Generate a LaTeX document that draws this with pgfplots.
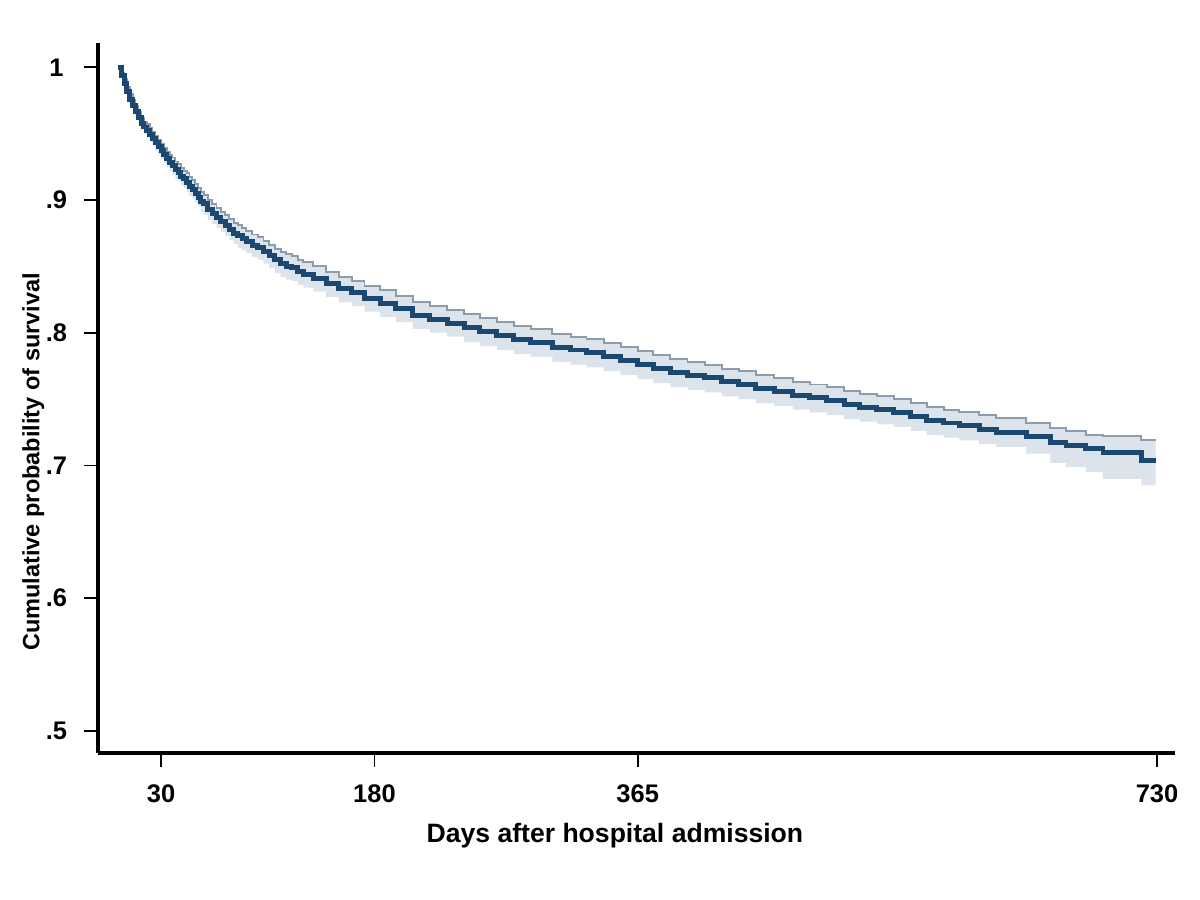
\documentclass[border=0pt]{standalone}
\usepackage{fontspec}
\setmainfont{Liberation Sans}
\usepackage{pgfplots}
\usepackage{pgfplotstable}
\pgfplotsset{compat=1.18}
\usepgfplotslibrary{fillbetween}

\definecolor{mainc}{RGB}{26,72,112}
\definecolor{upc}{RGB}{140,156,171}
\definecolor{bandc}{RGB}{221,227,234}

% Kaplan-Meier estimate with confidence band
\pgfplotstableread{
t   s     lo    hi
0   1.000 1.000 1.000
2   0.994 0.992 0.996
4   0.988 0.985 0.991
6   0.982 0.979 0.985
8   0.976 0.972 0.980
10  0.971 0.967 0.975
12  0.967 0.963 0.971
14  0.962 0.958 0.966
16  0.958 0.953 0.962
18  0.955 0.950 0.959
20  0.952 0.947 0.957
22  0.949 0.944 0.954
24  0.946 0.941 0.951
26  0.943 0.937 0.948
28  0.940 0.934 0.945
30  0.937 0.931 0.942
32  0.934 0.928 0.939
34  0.931 0.925 0.936
36  0.928 0.922 0.934
38  0.926 0.919 0.932
40  0.923 0.916 0.929
42  0.921 0.914 0.927
44  0.918 0.911 0.924
46  0.916 0.909 0.922
48  0.913 0.906 0.920
50  0.910 0.903 0.917
52  0.908 0.901 0.915
54  0.905 0.898 0.912
56  0.902 0.895 0.909
58  0.899 0.891 0.906
60  0.897 0.889 0.904
63  0.893 0.885 0.900
66  0.890 0.882 0.897
69  0.887 0.879 0.894
72  0.884 0.876 0.891
75  0.881 0.873 0.889
78  0.878 0.870 0.886
81  0.875 0.867 0.883
84  0.873 0.864 0.881
87  0.871 0.862 0.879
90  0.869 0.860 0.877
94  0.866 0.857 0.874
98  0.864 0.855 0.872
102 0.861 0.852 0.869
106 0.858 0.849 0.866
110 0.855 0.845 0.863
114 0.852 0.842 0.861
118 0.850 0.840 0.859
122 0.849 0.839 0.858
126 0.846 0.836 0.855
130 0.844 0.834 0.853
137 0.841 0.831 0.850
146 0.837 0.827 0.846
155 0.833 0.823 0.842
164 0.830 0.820 0.839
173 0.826 0.816 0.835
184 0.822 0.812 0.832
195 0.818 0.808 0.828
207 0.813 0.803 0.823
219 0.810 0.800 0.820
231 0.807 0.797 0.817
243 0.804 0.793 0.814
254 0.801 0.790 0.811
266 0.798 0.787 0.808
278 0.795 0.784 0.805
290 0.793 0.782 0.803
305 0.789 0.778 0.799
318 0.787 0.776 0.797
329 0.785 0.774 0.795
341 0.782 0.771 0.792
353 0.779 0.768 0.789
365 0.776 0.765 0.786
376 0.773 0.762 0.783
388 0.770 0.759 0.780
400 0.768 0.757 0.778
412 0.766 0.755 0.776
424 0.763 0.752 0.773
436 0.761 0.750 0.771
448 0.758 0.747 0.768
461 0.756 0.745 0.766
474 0.753 0.742 0.763
486 0.751 0.740 0.761
498 0.749 0.738 0.759
510 0.746 0.735 0.756
521 0.744 0.733 0.754
533 0.742 0.731 0.752
545 0.740 0.729 0.750
557 0.737 0.726 0.747
568 0.734 0.723 0.744
580 0.732 0.721 0.742
591 0.730 0.719 0.740
605 0.727 0.716 0.738
617 0.725 0.714 0.736
638 0.722 0.709 0.732
655 0.717 0.702 0.728
666 0.715 0.699 0.726
680 0.713 0.695 0.723
692 0.710 0.690 0.722
719 0.704 0.685 0.719
729 0.704 0.685 0.719
}\kmdata

\begin{document}
\begin{tikzpicture}
\begin{axis}[
    scale only axis,
    width=389.17pt, height=256.56pt,
    xmin=-14.3, xmax=742.6,
    ymin=0.4834, ymax=1.0183,
    axis lines*=left,
    axis line style={line width=1.4pt, black},
    tick align=outside,
    major tick length=5pt,
    major tick style={line width=0.6pt, black},
    xtick={30,180,365,730},
    xticklabels={30,180,365,730},
    ytick={0.5,0.6,0.7,0.8,0.9,1},
    yticklabels={.5,.6,.7,.8,.9,1},
    ticklabel style={font=\bfseries\fontsize{9.2}{11}\selectfont},
    yticklabel style={anchor=center, xshift=-10pt},
    xticklabel style={yshift=-2.8pt},
    xlabel={Days after hospital admission},
    ylabel={Cumulative probability of survival},
    xlabel style={at={(axis description cs:0.480,-0.117)}, anchor=center,
        font=\bfseries\fontsize{9.6}{11}\selectfont},
    ylabel style={at={(axis description cs:-0.060,0.41)}, anchor=center,
        font=\bfseries\fontsize{8.5}{10}\selectfont},
]
\addplot[const plot, draw=none, name path=hi] table[x=t, y=hi] {\kmdata};
\addplot[const plot, draw=none, name path=lo] table[x=t, y=lo] {\kmdata};
\addplot[bandc, draw=none] fill between[of=hi and lo];
\addplot[const plot, upc, line width=0.7pt] table[x=t, y=hi] {\kmdata};
\addplot[const plot, mainc, line width=1.8pt] table[x=t, y=s] {\kmdata};
\end{axis}
\path (current axis.south west) ++(-35.41pt,-53.12pt) rectangle ++(433.62pt,325.22pt);
\end{tikzpicture}
\end{document}
